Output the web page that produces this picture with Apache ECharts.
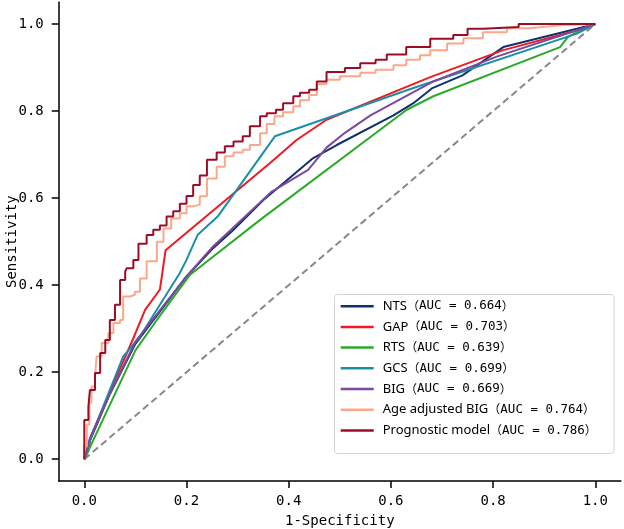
<!DOCTYPE html>
<html>
<head>
<meta charset="utf-8">
<script src="https://cdn.jsdelivr.net/npm/echarts@6/dist/echarts.min.js"></script>
<style>html,body{margin:0;padding:0;background:#fff}#c{width:624px;height:529px}</style>
</head>
<body>
<div id="c"></div>
<script>
const seriesNames = ['NTS', 'GAP', 'RTS', 'GCS', 'BIG', 'Age adjusted BIG', 'Prognostic model'];
const aucValues = ['0.664', '0.703', '0.639', '0.699', '0.669', '0.764', '0.786'];
const tickValues = [0, 0.2, 0.4, 0.6, 0.8, 1.0];

const ntsFpr = [0, 0.01, 0.05, 0.1, 0.2, 0.252, 0.29, 0.35, 0.448, 0.494, 0.605, 0.644, 0.68, 0.74, 0.82, 0.964, 1];
const ntsTpr = [0, 0.04, 0.15, 0.265, 0.42, 0.485, 0.525, 0.595, 0.692, 0.722, 0.79, 0.818, 0.852, 0.882, 0.947, 0.989, 1];

const gapFpr = [0, 0.008, 0.012, 0.05, 0.096, 0.119, 0.148, 0.159, 0.363, 0.416, 0.474, 0.677, 0.82, 0.964, 1];
const gapTpr = [0, 0.02, 0.05, 0.155, 0.278, 0.343, 0.39, 0.48, 0.68, 0.734, 0.78, 0.878, 0.94, 0.985, 1];

const rtsFpr = [0, 0.024, 0.1, 0.142, 0.207, 0.344, 0.631, 0.683, 0.931, 0.947, 0.964, 1];
const rtsTpr = [0, 0.06, 0.25, 0.32, 0.424, 0.55, 0.803, 0.834, 0.947, 0.971, 0.981, 1];

const gcsFpr = [0, 0.013, 0.076, 0.109, 0.187, 0.2, 0.222, 0.262, 0.373, 0.644, 0.964, 1];
const gcsTpr = [0, 0.05, 0.236, 0.282, 0.428, 0.458, 0.516, 0.559, 0.742, 0.853, 0.978, 1];

const bigFpr = [0, 0.01, 0.05, 0.1, 0.2, 0.252, 0.367, 0.438, 0.474, 0.51, 0.56, 0.683, 0.807, 0.973, 1];
const bigTpr = [0, 0.045, 0.15, 0.27, 0.42, 0.489, 0.615, 0.665, 0.716, 0.75, 0.79, 0.868, 0.925, 0.989, 1];

const ageBigFpr = [0, 0.005, 0.01, 0.014, 0.021, 0.024, 0.034, 0.047, 0.057, 0.07, 0.076, 0.089, 0.099, 0.109, 0.122, 0.142, 0.155, 0.17, 0.187, 0.2, 0.213, 0.226, 0.24, 0.259, 0.275, 0.292, 0.31, 0.324, 0.344, 0.357, 0.372, 0.389, 0.409, 0.422, 0.44, 0.455, 0.474, 0.5, 0.54, 0.57, 0.605, 0.63, 0.657, 0.677, 0.71, 0.742, 0.78, 0.827, 0.87, 0.905, 0.93, 1];
const ageBigTpr = [0, 0.029, 0.08, 0.13, 0.167, 0.19, 0.236, 0.267, 0.29, 0.313, 0.32, 0.374, 0.378, 0.385, 0.415, 0.455, 0.5, 0.53, 0.553, 0.565, 0.581, 0.585, 0.604, 0.645, 0.672, 0.696, 0.705, 0.711, 0.722, 0.749, 0.77, 0.788, 0.797, 0.811, 0.825, 0.837, 0.862, 0.872, 0.88, 0.888, 0.895, 0.905, 0.918, 0.928, 0.94, 0.955, 0.967, 0.981, 0.99, 0.994, 0.997, 1];

const progFpr = [0, 0, 0.008, 0.011, 0.021, 0.031, 0.041, 0.05, 0.06, 0.07, 0.08, 0.083, 0.096, 0.106, 0.122, 0.135, 0.148, 0.161, 0.174, 0.187, 0.2, 0.213, 0.226, 0.24, 0.259, 0.275, 0.292, 0.31, 0.324, 0.344, 0.357, 0.375, 0.389, 0.409, 0.422, 0.44, 0.455, 0.474, 0.51, 0.54, 0.57, 0.592, 0.63, 0.677, 0.722, 0.75, 0.781, 0.85, 0.905, 1];
const progTpr = [0, 0.067, 0.09, 0.121, 0.159, 0.198, 0.244, 0.274, 0.32, 0.355, 0.412, 0.431, 0.439, 0.458, 0.495, 0.515, 0.527, 0.537, 0.558, 0.57, 0.587, 0.605, 0.63, 0.652, 0.688, 0.705, 0.719, 0.73, 0.742, 0.765, 0.788, 0.795, 0.803, 0.818, 0.834, 0.842, 0.849, 0.868, 0.89, 0.899, 0.91, 0.918, 0.93, 0.947, 0.966, 0.975, 0.989, 0.993, 1.0, 1];

const chanceFpr = [0, 1];
const chanceTpr = [0, 1];

const colors = ['#13306e', '#ee1c22', '#2aaa2a', '#1a8fa8', '#7b4a9e', '#fba88a', '#9e0c24'];

const zip = (a, b) => a.map((v, i) => [v, b[i]]);
const curves = [
  zip(ntsFpr, ntsTpr), zip(gapFpr, gapTpr), zip(rtsFpr, rtsTpr), zip(gcsFpr, gcsTpr),
  zip(bigFpr, bigTpr), zip(ageBigFpr, ageBigTpr), zip(progFpr, progTpr)
];

const chart = echarts.init(document.getElementById('c'));
const axisCommon = {
  type: 'value', min: -0.05, max: 1.05,
  splitLine: { show: false },
  axisLine: { show: true, onZero: false, lineStyle: { color: '#000', width: 1.5 } },
  axisTick: { show: true, customValues: tickValues, length: 7, lineStyle: { color: '#000', width: 1.5 } },
  nameLocation: 'middle',
  nameMoveOverlap: false,
  nameTextStyle: { fontFamily: 'DejaVu Sans Mono', fontSize: 14, color: '#000' }
};
const series = [{
  type: 'line', name: 'chance', data: zip(chanceFpr, chanceTpr), symbol: 'none', silent: true,
  lineStyle: { color: '#888', width: 2, type: [7, 4] }, z: 1
}];
curves.forEach((d, i) => {
  const stepped = i >= 5;
  series.push({
    type: 'line', name: seriesNames[i], data: d, symbol: 'none',
    step: stepped ? 'start' : false,
    lineStyle: { color: colors[i], width: 2 }, itemStyle: { color: colors[i] }, z: 2 + i
  });
});

chart.setOption({
  animation: false,
  backgroundColor: '#fff',
  grid: { left: 58.75, right: 3.15, top: 2.25, bottom: 48, containLabel: false, outerBoundsMode: 'none' },
  xAxis: Object.assign({}, axisCommon, {
    name: '1-Specificity', nameGap: 33,
    axisLabel: { customValues: tickValues, formatter: v => v.toFixed(1), margin: 13, fontFamily: 'DejaVu Sans Mono', fontSize: 14, color: '#000' }
  }),
  yAxis: Object.assign({}, axisCommon, {
    name: 'Sensitivity', nameGap: 39,
    axisLabel: { customValues: tickValues, formatter: v => v.toFixed(1), margin: 15, fontFamily: 'DejaVu Sans Mono', fontSize: 14, color: '#000' }
  }),
  graphic: [{
    type: 'rect', z: 3, silent: true,
    shape: { x: 334.5, y: 294.5, width: 279.5, height: 159, r: 3 },
    style: { fill: '#fff', stroke: '#d4d4d4', lineWidth: 1 }
  }],
  legend: {
    orient: 'vertical', left: 340.7, top: 299.7, padding: 0, itemGap: 7.7,
    itemWidth: 33, itemHeight: 2.5, icon: 'rect', z: 10,
    data: seriesNames,
    formatter: name => {
      const i = seriesNames.indexOf(name);
      return '{n|' + name + '}{p|（}{m|AUC = ' + aucValues[i] + '}{p|）}';
    },
    textStyle: {
      color: '#000', padding: [0, 0, 0, 4],
      rich: {
        n: { fontFamily: 'Noto Sans', fontSize: 13, lineHeight: 14, color: '#000' },
        p: { fontFamily: 'Noto Sans CJK SC', fontSize: 12, lineHeight: 14, color: '#000' },
        m: { fontFamily: 'DejaVu Sans Mono', fontSize: 12.5, lineHeight: 14, color: '#000' }
      }
    }
  },
  series: series
});
</script>
</body>
</html>
